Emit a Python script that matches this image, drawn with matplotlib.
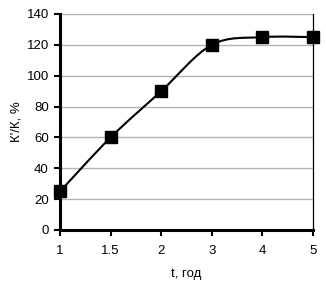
import matplotlib
matplotlib.use("Agg")
import matplotlib.pyplot as plt
from matplotlib.path import Path
from matplotlib.patches import PathPatch
import numpy as np

categories = ["1", "1.5", "2", "3", "4", "5"]
values = [25, 60, 90, 120, 125, 125]
yticks = [0, 20, 40, 60, 80, 100, 120, 140]

plt.rcParams['font.family'] = ['Liberation Sans', 'DejaVu Sans']

fig = plt.figure(figsize=(3.26, 2.86), dpi=100)
ax = fig.add_axes([60/326, 1 - 230/286, (313-60)/326, (230-14)/286])

x = np.arange(len(categories))
y = np.array(values, dtype=float)

# Smooth Bezier curve through points (Catmull-Rom style, Excel-like)
t = 1/6
verts = [(x[0], y[0])]
codes = [Path.MOVETO]
n = len(x)
for i in range(n - 1):
    p0 = (x[i-1], y[i-1]) if i > 0 else (x[i], y[i])
    p1 = (x[i], y[i])
    p2 = (x[i+1], y[i+1])
    p3 = (x[i+2], y[i+2]) if i + 2 < n else (x[i+1], y[i+1])
    c1 = (p1[0] + (p2[0]-p0[0])*t, p1[1] + (p2[1]-p0[1])*t)
    c2 = (p2[0] - (p3[0]-p1[0])*t, p2[1] - (p3[1]-p1[1])*t)
    verts += [c1, c2, p2]
    codes += [Path.CURVE4]*3
ax.add_patch(PathPatch(Path(verts, codes), fill=False, edgecolor='black', lw=1.5, zorder=3))
ax.plot(x, y, linestyle='none', marker='s', markersize=8.3, color='black', zorder=4, clip_on=False)

ax.set_xlim(0, n - 1)
ax.set_ylim(0, 140)
ax.set_xticks(x)
ax.set_xticklabels(categories)
ax.set_yticks(yticks)
ax.yaxis.grid(True, color='#b4b4b4', lw=1)
ax.set_axisbelow(True)

for s in ['left', 'bottom']:
    ax.spines[s].set_linewidth(2.2)
    ax.spines[s].set_color('black')
ax.spines['top'].set_visible(False)
ax.spines['right'].set_linewidth(0.9)
ax.spines['right'].set_color('black')

ax.tick_params(axis='both', direction='out', length=4, width=1.5, labelsize=9.5, colors='black')
ax.tick_params(axis='x', pad=7)
ax.tick_params(axis='y', pad=4, right=False)

ax.set_xlabel("t, год", fontsize=9.5, labelpad=8)
ax.set_ylabel("К'/К, %", fontsize=9.5, labelpad=3)

fig.savefig("out.png", dpi=100)
